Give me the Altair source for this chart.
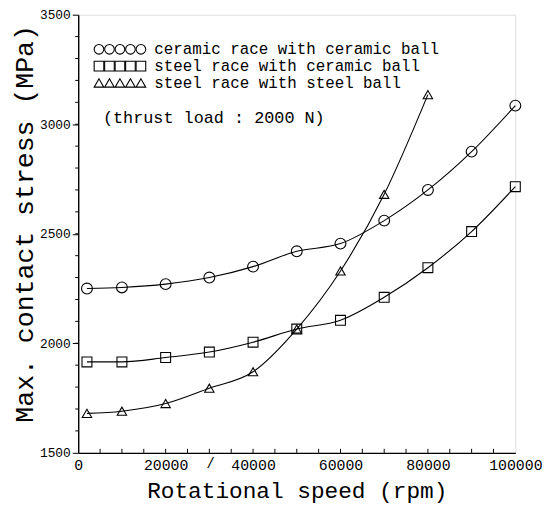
import altair as alt
import pandas as pd

# ---- data ----
rpm = [2000, 10000, 20000, 30000, 40000, 50000, 60000, 70000, 80000, 90000, 100000]
ceramic_ceramic = [2250, 2255, 2270, 2300, 2350, 2420, 2455, 2560, 2700, 2875, 3085]
steel_ceramic = [1915, 1915, 1935, 1960, 2005, 2065, 2105, 2210, 2345, 2510, 2715]
rpm_steel = [2000, 10000, 20000, 30000, 40000, 50000, 60000, 70000, 80000]
steel_steel = [1680, 1690, 1725, 1795, 1870, 2065, 2330, 2680, 3135]

series_names = ["ceramic race with ceramic ball",
                "steel race with ceramic ball",
                "steel race with steel ball"]
series_shapes = ["circle", "square", "triangle-up"]
series_sizes = [120, 100, 90]

x_labels = [0, 20000, 40000, 60000, 80000, 100000]
x_ticks = list(range(5000, 100000, 5000))
y_labels = [1500, 2000, 2500, 3000, 3500]
y_minor = list(range(1600, 3500, 100))

W, H = 442, 443
FONT = "Liberation Mono"

rows = []
for s, xs, ys in [(0, rpm, ceramic_ceramic), (1, rpm, steel_ceramic), (2, rpm_steel, steel_steel)]:
    for x, y in zip(xs, ys):
        rows.append({"rpm": x, "stress": y, "series": series_names[s]})
df = pd.DataFrame(rows)

xscale = alt.Scale(domain=[0, 100000], nice=False)
yscale = alt.Scale(domain=[1500, 3500], nice=False)

xaxis = alt.Axis(values=x_labels, format="d", ticks=False, grid=False, labelPadding=5,
                 labelFont=FONT, labelFontSize=15, labelColor="black",
                 domainColor="black", domainWidth=1.2,
                 title="Rotational speed (rpm)", titleFont=FONT, titleFontSize=23,
                 titleFontWeight="normal", titleColor="black", titleY=38,
                 titleBaseline="middle", labelFlush=False)
yaxis = alt.Axis(values=y_labels, format="d", tickSize=6, tickColor="black", grid=False,
                 labelFont=FONT, labelFontSize=13, labelColor="black", labelPadding=2,
                 domainColor="black", domainWidth=1.4,
                 title="Max. contact stress (MPa)", titleFont=FONT, titleFontSize=26.8,
                 titleFontWeight="normal", titleColor="black", titleX=-54, titleY=211,
                 titleBaseline="middle", labelFlush=False)

base = alt.Chart(df)
lines = base.mark_line(interpolate="monotone", color="black", strokeWidth=1.1).encode(
    x=alt.X("rpm:Q", scale=xscale, axis=xaxis),
    y=alt.Y("stress:Q", scale=yscale, axis=yaxis),
    detail="series:N",
)

point_layers = []
for name, shp, sz in zip(series_names, series_shapes, series_sizes):
    point_layers.append(
        alt.Chart(df[df.series == name]).mark_point(
            shape=shp, size=sz, filled=False, color="black", strokeWidth=1.1, opacity=1
        ).encode(x=alt.X("rpm:Q", scale=xscale), y=alt.Y("stress:Q", scale=yscale))
    )

# inward x ticks and outward minor y ticks
xt = alt.Chart(pd.DataFrame({"t": x_ticks})).mark_rule(color="black", strokeWidth=1).encode(
    x=alt.X("t:Q", scale=xscale), y=alt.value(H - 4), y2=alt.value(H))
yt = alt.Chart(pd.DataFrame({"t": y_minor})).mark_rule(color="black", strokeWidth=1).encode(
    y=alt.Y("t:Q", scale=yscale), x=alt.value(-3), x2=alt.value(0))

# hand-made legend (annotation, pixel positions)
leg_rows = [35, 52, 69]
leg_x = [21, 31.6, 42.2, 52.8, 63.4]
leg_pts = []
leg_txt = []
for i, name in enumerate(series_names):
    for j, lx in enumerate(leg_x):
        leg_pts.append({"px": lx, "py": leg_rows[i], "series": name, "k": i})
    leg_txt.append({"px": 77, "py": leg_rows[i], "label": name})
lp = pd.DataFrame(leg_pts)
legend_marks = []
for i, (name, shp) in enumerate(zip(series_names, series_shapes)):
    legend_marks.append(
        alt.Chart(lp[lp.k == i]).mark_point(shape=shp, size=95, filled=False, color="black",
                                            strokeWidth=1.1, opacity=1).encode(
            x=alt.X("px:Q", scale=None), y=alt.Y("py:Q", scale=None))
    )
legend_text = alt.Chart(pd.DataFrame(leg_txt)).mark_text(
    font=FONT, fontSize=16, align="left", baseline="middle", color="black").encode(
    x=alt.X("px:Q", scale=None), y=alt.Y("py:Q", scale=None), text="label:N")

note = alt.Chart(pd.DataFrame({"label": ["(thrust load : 2000 N)"]})).mark_text(
    font=FONT, fontSize=17, align="left", baseline="middle", color="black").encode(
    x=alt.value(25), y=alt.value(105), text="label:N")

slash = alt.Chart(pd.DataFrame({"label": ["/"]})).mark_text(
    font=FONT, fontSize=14, align="center", baseline="middle", color="black").encode(
    x=alt.value(134), y=alt.value(454), text="label:N")

chart = alt.layer(lines, *point_layers, xt, yt, *legend_marks, legend_text, note, slash).properties(
    width=W, height=H,
    autosize=alt.AutoSizeParams(type="none"),
    padding={"left": 71, "top": 4, "right": 30, "bottom": 50},
).configure_view(stroke="black", strokeWidth=1.2).configure(background="white")

chart.save("out.html", embed_options={"renderer": "svg", "actions": False})
